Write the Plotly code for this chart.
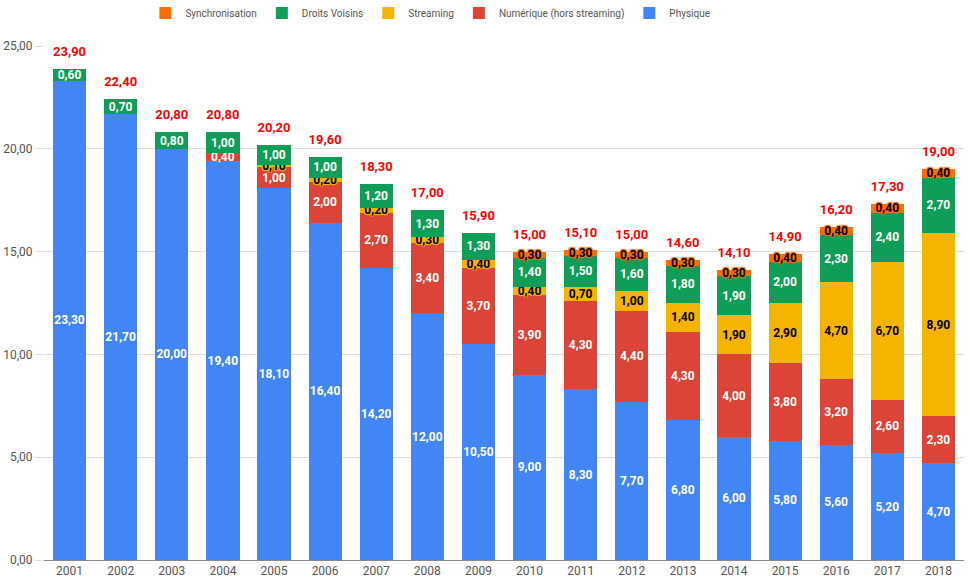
import plotly.graph_objects as go

years = [str(y) for y in range(2001, 2019)]
physique = [23.3, 21.7, 20.0, 19.4, 18.1, 16.4, 14.2, 12.0, 10.5, 9.0, 8.3, 7.7, 6.8, 6.0, 5.8, 5.6, 5.2, 4.7]
numerique = [0, 0, 0, 0.4, 1.0, 2.0, 2.7, 3.4, 3.7, 3.9, 4.3, 4.4, 4.3, 4.0, 3.8, 3.2, 2.6, 2.3]
streaming = [0, 0, 0, 0, 0.1, 0.2, 0.2, 0.3, 0.4, 0.4, 0.7, 1.0, 1.4, 1.9, 2.9, 4.7, 6.7, 8.9]
droits = [0.6, 0.7, 0.8, 1.0, 1.0, 1.0, 1.2, 1.3, 1.3, 1.4, 1.5, 1.6, 1.8, 1.9, 2.0, 2.3, 2.4, 2.7]
sync = [0, 0, 0, 0, 0, 0, 0, 0, 0, 0.3, 0.3, 0.3, 0.3, 0.3, 0.4, 0.4, 0.4, 0.4]

series = [
    ("Physique", physique, "#4285F4", "white"),
    ("Numérique (hors streaming)", numerique, "#DB4437", "white"),
    ("Streaming", streaming, "#F4B400", "black"),
    ("Droits Voisins", droits, "#0F9D58", "white"),
    ("Synchronisation", sync, "#FF6D00", "black"),
]

def fmt(v):
    return f"{v:.2f}".replace(".", ",")

fig = go.Figure()
for name, vals, color, tcol in series:
    ys = [v if v else None for v in vals]
    texts = [fmt(v) if v else "" for v in vals]
    tf = dict(color=tcol, size=12, family="Roboto", weight="bold")
    if tcol == "black":
        tf["shadow"] = (f"1px 1px 1px {color}, -1px -1px 1px {color}, "
                        f"1px -1px 1px {color}, -1px 1px 1px {color}")
    fig.add_trace(go.Bar(
        x=years, y=ys, name=name, marker=dict(color=color, line=dict(width=0)),
        text=texts, textposition="inside", insidetextanchor="middle",
        textangle=0, textfont=tf, constraintext="none",
    ))

totals = [round(sum(s[1][i] for s in series), 2) for i in range(len(years))]
fig.add_trace(go.Scatter(
    x=years, y=totals, mode="markers+text", text=[fmt(t) for t in totals],
    textposition="top center", showlegend=False, hoverinfo="skip",
    marker=dict(size=14, opacity=0),
    textfont=dict(color="#FF0000", size=13, family="Roboto", weight="bold"),
    cliponaxis=False,
))

fig.update_layout(
    barmode="stack",
    bargap=0.35,
    width=975, height=582,
    margin=dict(l=44, r=11, t=46, b=22),
    plot_bgcolor="white", paper_bgcolor="white",
    separators=",.",
    uniformtext=dict(minsize=12, mode="show"),
    font=dict(family="Roboto", color="#444"),
    legend=dict(orientation="h", x=0.42, xanchor="center", y=1 - 13 / 582,
                yanchor="middle", yref="container", traceorder="reversed",
                font=dict(size=10, color="#555"), itemwidth=30),
    xaxis=dict(range=[-0.5, len(years) - 0.5], showgrid=False, showline=True,
               linecolor="#888", linewidth=1,
               tickfont=dict(size=12, color="#555"), ticks="", automargin=False),
    yaxis=dict(range=[0, 25], dtick=5, tickformat=".2f", showgrid=True,
               gridcolor="#DDDDDD", zeroline=False, ticks="outside", ticklen=8,
               tickcolor="#DDDDDD", tickfont=dict(size=12, color="#555"),
               automargin=False),
)

fig.write_html("out.html")
